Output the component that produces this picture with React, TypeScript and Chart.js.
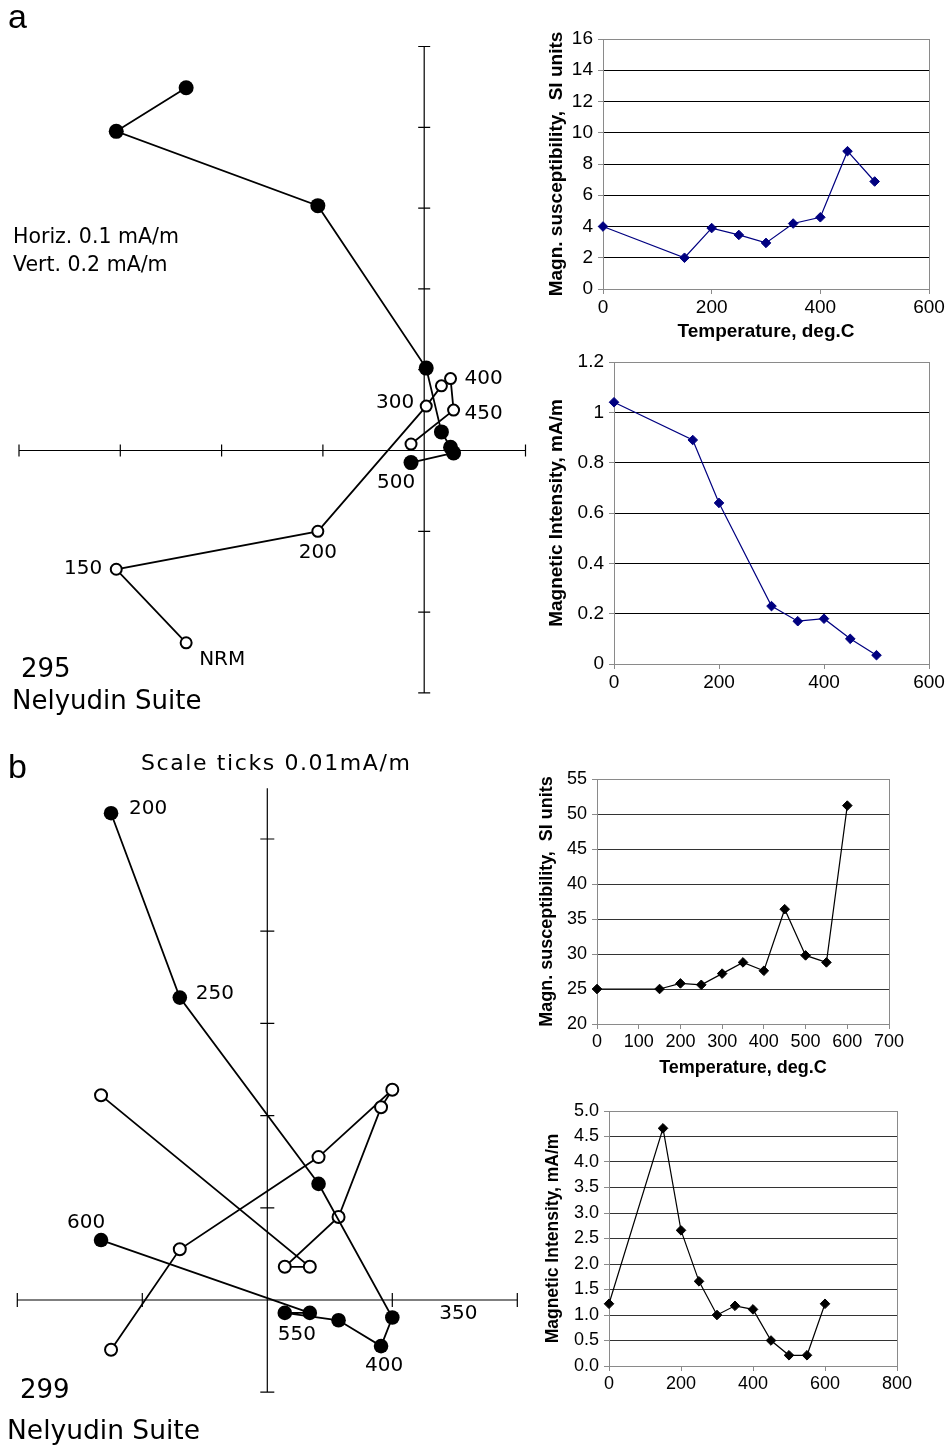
import React, { useEffect, useRef } from 'react';
import { Chart, registerables } from 'chart.js';

Chart.register(...registerables);

// ================= Panel a : sample 295 =================
// Zijderveld diagram (tick units). Same horizontal coordinate for both projections.
const aZijSteps = ['NRM', '150', '200', '300', '350', '400', '450', '500'];
const aZijX = [-2.35, -3.04, -1.05, 0.02, 0.17, 0.26, 0.29, -0.13];
const aZijFilledY = [4.49, 3.95, 3.03, 1.02, 0.23, 0.04, -0.03, -0.15];
const aZijOpenY = [-2.38, -1.47, -1.0, 0.55, 0.8, 0.89, 0.5, 0.08];
const aZijXRange = [-4, 1];
const aZijYRange = [-3, 5];

const aSuscTemps = [0, 150, 200, 250, 300, 350, 400, 450, 500];
const aSuscValues = [4.0, 2.0, 3.9, 3.46, 2.95, 4.19, 4.59, 8.82, 6.88];
const aSuscXTicks = [0, 200, 400, 600];
const aSuscYTicks = [0, 2, 4, 6, 8, 10, 12, 14, 16];

const aIntTemps = [0, 150, 200, 300, 350, 400, 450, 500];
const aIntValues = [1.04, 0.89, 0.64, 0.23, 0.17, 0.18, 0.1, 0.035];
const aIntXTicks = [0, 200, 400, 600];
const aIntYTicks = [0, 0.2, 0.4, 0.6, 0.8, 1, 1.2];

// ================= Panel b : sample 299 =================
const bZijSteps = ['200', '250', '300', '350', '400', '450', '500', '550', '600'];
const bZijX = [-1.25, -0.7, 0.41, 1.0, 0.91, 0.57, 0.14, 0.34, -1.33];
const bZijFilledY = [5.28, 3.28, 1.26, -0.19, -0.5, -0.22, -0.14, -0.14, 0.65];
const bZijOpenY = [-0.54, 0.55, 1.55, 2.28, 2.09, 0.9, 0.36, 0.36, 2.22];
const bZijXRange = [-2, 2];
const bZijYRange = [-1, 5.55];

const bSuscTemps = [0, 150, 200, 250, 300, 350, 400, 450, 500, 550, 600];
const bSuscValues = [25.0, 25.0, 25.8, 25.6, 27.2, 28.8, 27.6, 36.4, 29.8, 28.8, 51.2];
const bSuscXTicks = [0, 100, 200, 300, 400, 500, 600, 700];
const bSuscYTicks = [20, 25, 30, 35, 40, 45, 50, 55];

const bIntTemps = [0, 150, 200, 250, 300, 350, 400, 450, 500, 550, 600];
const bIntValues = [1.22, 4.66, 2.66, 1.66, 1.0, 1.18, 1.11, 0.5, 0.21, 0.21, 1.22];
const bIntXTicks = [0, 200, 400, 600, 800];
const bIntYTicks = [0, 0.5, 1, 1.5, 2, 2.5, 3, 3.5, 4, 4.5, 5];

// label placements (which point gets which step label)
const aZijLabels = [
  { ds: 1, i: 5, dx: 14, dy: 0, align: 'left' },
  { ds: 1, i: 3, dx: -12, dy: -3, align: 'right' },
  { ds: 1, i: 6, dx: 11, dy: 4, align: 'left' },
  { ds: 0, i: 7, dx: -15, dy: 20, align: 'center' },
  { ds: 1, i: 2, dx: 0, dy: 21, align: 'center' },
  { ds: 1, i: 1, dx: -14, dy: 0, align: 'right' },
  { ds: 1, i: 0, dx: 13, dy: 17, align: 'left' },
];
const bZijLabels = [
  { ds: 0, i: 0, dx: 18, dy: -4, align: 'left' },
  { ds: 0, i: 1, dx: 16, dy: -4, align: 'left' },
  { ds: 0, i: 8, dx: -15, dy: -17, align: 'center' },
  { ds: 0, i: 7, dx: -13, dy: 22, align: 'center' },
  { ds: 0, i: 4, dx: 3, dy: 20, align: 'center' },
  { ds: 0, i: 3, dx: 66, dy: -4, align: 'center' },
];

const ZFONT = "'DejaVu Sans', 'Noto Sans', sans-serif";
const AFONT = "'Liberation Sans', Arial, sans-serif";
const FRAME = '#8a8a8a';

// ---------- plugins ----------
const zijAxesPlugin = {
  id: 'zijAxes',
  beforeDatasetsDraw(chart: any, _a: any, opts: any) {
    const { ctx } = chart;
    const x = chart.scales.x;
    const y = chart.scales.y;
    const t = opts.tick || 6;
    const x0 = x.getPixelForValue(0);
    const y0 = y.getPixelForValue(0);
    ctx.save();
    ctx.strokeStyle = '#000';
    ctx.lineWidth = 1.2;
    ctx.beginPath();
    ctx.moveTo(x.getPixelForValue(x.min), y0);
    ctx.lineTo(x.getPixelForValue(x.max), y0);
    ctx.moveTo(x0, y.getPixelForValue(y.min));
    ctx.lineTo(x0, y.getPixelForValue(y.max));
    for (let v = Math.ceil(x.min); v <= x.max; v++) {
      if (v === 0) continue;
      const px = x.getPixelForValue(v);
      ctx.moveTo(px, y0 - t);
      ctx.lineTo(px, y0 + t);
    }
    for (let v = Math.ceil(y.min); v <= y.max; v++) {
      if (v === 0) continue;
      const py = y.getPixelForValue(v);
      ctx.moveTo(x0 - t, py);
      ctx.lineTo(x0 + t, py);
    }
    ctx.stroke();
    ctx.restore();
  },
};

const stepLabelPlugin = {
  id: 'stepLabels',
  afterDatasetsDraw(chart: any, _a: any, opts: any) {
    const { ctx } = chart;
    const items = opts.items || [];
    const texts = opts.texts || [];
    ctx.save();
    ctx.font = opts.font;
    ctx.fillStyle = '#000';
    ctx.textBaseline = 'middle';
    for (const l of items) {
      const el = chart.getDatasetMeta(l.ds).data[l.i];
      if (!el) continue;
      ctx.textAlign = l.align;
      ctx.fillText(texts[l.i], el.x + l.dx, el.y + l.dy);
    }
    ctx.restore();
  },
};

const framePlugin = {
  id: 'frame',
  beforeDatasetsDraw(chart: any) {
    const { ctx, chartArea: a } = chart;
    ctx.save();
    ctx.strokeStyle = FRAME;
    ctx.lineWidth = 1;
    const l = Math.round(a.left) + 0.5;
    const t = Math.round(a.top) + 0.5;
    const r = Math.round(a.right) + 0.5;
    const b = Math.round(a.bottom) + 0.5;
    ctx.strokeRect(l, t, r - l, b - t);
    ctx.restore();
  },
};

// ---------- config builders ----------
function zijConfig(p: any) {
  const filled = p.x.map((v: number, i: number) => ({ x: v, y: p.filledY[i] }));
  const open = p.x.map((v: number, i: number) => ({ x: v, y: p.openY[i] }));
  return {
    type: 'scatter',
    data: {
      datasets: [
        {
          data: filled,
          showLine: true,
          borderColor: '#000',
          borderWidth: 1.8,
          pointRadius: p.filledR,
          pointHoverRadius: p.filledR,
          pointBackgroundColor: '#000',
          pointBorderColor: '#000',
          pointBorderWidth: 0,
          clip: false,
        },
        {
          data: open,
          showLine: true,
          borderColor: '#000',
          borderWidth: 1.8,
          pointRadius: p.openR,
          pointHoverRadius: p.openR,
          pointBackgroundColor: '#fff',
          pointBorderColor: '#000',
          pointBorderWidth: 2,
          clip: false,
        },
      ],
    },
    options: {
      responsive: false,
      animation: false,
      devicePixelRatio: 1,
      events: [],
      layout: { padding: p.padding },
      plugins: {
        legend: { display: false },
        tooltip: { enabled: false },
        zijAxes: { tick: p.tick },
        stepLabels: { items: p.labels, texts: p.steps, font: `20px ${ZFONT}` },
      },
      scales: {
        x: { type: 'linear', min: p.xRange[0], max: p.xRange[1], display: false },
        y: { type: 'linear', min: p.yRange[0], max: p.yRange[1], display: false },
      },
    },
    plugins: [zijAxesPlugin, stepLabelPlugin],
  };
}

function seriesConfig(p: any) {
  const data = p.xs.map((x: number, i: number) => ({ x, y: p.ys[i] }));
  const tickFont = { family: AFONT, size: p.tickSize };
  const titleFont = (size: number) => ({ family: AFONT, size, weight: 'bold' });
  return {
    type: 'scatter',
    data: {
      datasets: [
        {
          data,
          showLine: true,
          borderColor: p.color,
          borderWidth: p.lineWidth,
          backgroundColor: p.color,
          pointStyle: 'rectRot',
          pointRadius: 4.8,
          pointHoverRadius: 4.8,
          pointBackgroundColor: p.color,
          pointBorderColor: p.color,
          pointBorderWidth: 1,
          clip: false,
        },
      ],
    },
    options: {
      responsive: false,
      animation: false,
      devicePixelRatio: 1,
      events: [],
      layout: { padding: p.padding },
      plugins: { legend: { display: false }, tooltip: { enabled: false } },
      scales: {
        x: {
          type: 'linear',
          min: p.xTicks[0],
          max: p.xTicks[p.xTicks.length - 1],
          afterBuildTicks: (s: any) => {
            s.ticks = p.xTicks.map((v: number) => ({ value: v }));
          },
          ticks: { font: tickFont, color: '#000', padding: 2, maxRotation: 0, autoSkip: false },
          grid: { drawOnChartArea: false, drawTicks: true, tickLength: 5, tickColor: FRAME },
          border: { color: FRAME, width: 1 },
          title: p.xTitle
            ? {
                display: true,
                text: p.xTitle,
                color: '#000',
                font: titleFont(p.xTitleSize),
                padding: { top: 0, bottom: p.xTitlePad },
              }
            : { display: false },
          afterFit: (s: any) => {
            s.height = p.xAxisH;
          },
        },
        y: {
          type: 'linear',
          min: p.yTicks[0],
          max: p.yTicks[p.yTicks.length - 1],
          afterBuildTicks: (s: any) => {
            s.ticks = p.yTicks.map((v: number) => ({ value: v }));
          },
          ticks: { font: tickFont, color: '#000', padding: 5, callback: p.yFmt },
          grid: {
            color: (c: any) => (c.index === 0 ? FRAME : p.gridColor),
            lineWidth: 1,
            drawTicks: true,
            tickLength: 5,
            tickColor: FRAME,
          },
          border: { color: FRAME, width: 1 },
          title: {
            display: true,
            text: p.yTitle,
            color: '#000',
            font: titleFont(p.yTitleSize),
            padding: { top: p.yTitlePad, bottom: 0 },
          },
          afterFit: (s: any) => {
            s.width = p.yAxisW;
          },
        },
      },
    },
    plugins: [framePlugin],
  };
}

// ---------- components ----------
function ChartBox({ left, top, width, height, make }: any) {
  const ref = useRef<HTMLCanvasElement | null>(null);
  useEffect(() => {
    const chart = new Chart(ref.current as any, make() as any);
    return () => chart.destroy();
  }, []);
  return (
    <canvas
      ref={ref}
      width={width}
      height={height}
      style={{ position: 'absolute', left, top, width, height }}
    />
  );
}

function Txt({ x, baseline, size, family = ZFONT, spacing = 0, children }: any) {
  return (
    <div
      style={{
        position: 'absolute',
        left: x,
        top: baseline - 0.846 * size,
        fontFamily: family,
        fontSize: size,
        lineHeight: `${size}px`,
        letterSpacing: spacing,
        whiteSpace: 'pre',
        color: '#000',
        zIndex: 2,
      }}
    >
      {children}
    </div>
  );
}

const fmtPlain = (v: number) => String(+Number(v).toFixed(2));
const fmtOne = (v: number) => Number(v).toFixed(1);

export default function App() {
  return (
    <div
      style={{
        position: 'absolute',
        left: 0,
        top: 0,
        width: 949,
        height: 1445,
        background: '#fff',
        overflow: 'hidden',
      }}
    >
      {/* ---------------- panel a ---------------- */}
      <ChartBox
        left={0}
        top={0}
        width={540}
        height={720}
        make={() =>
          zijConfig({
            x: aZijX,
            filledY: aZijFilledY,
            openY: aZijOpenY,
            steps: aZijSteps,
            labels: aZijLabels,
            xRange: aZijXRange,
            yRange: aZijYRange,
            padding: { left: 19, right: 14.5, top: 46.5, bottom: 27.1 },
            filledR: 7.5,
            openR: 5.5,
            tick: 6,
          })
        }
      />
      <ChartBox
        left={540}
        top={20}
        width={409}
        height={330}
        make={() =>
          seriesConfig({
            xs: aSuscTemps,
            ys: aSuscValues,
            xTicks: aSuscXTicks,
            yTicks: aSuscYTicks,
            color: '#000080',
            lineWidth: 1.2,
            gridColor: '#000',
            tickSize: 19,
            yTitle: 'Magn. susceptibility,  SI units',
            yTitleSize: 19,
            yTitlePad: 5.3,
            xTitle: 'Temperature, deg.C',
            xTitleSize: 19,
            xTitlePad: 6.6,
            yAxisW: 63,
            xAxisH: 61,
            padding: { left: 0, top: 19, right: 20, bottom: 0 },
            yFmt: fmtPlain,
          })
        }
      />
      <ChartBox
        left={540}
        top={345}
        width={409}
        height={355}
        make={() =>
          seriesConfig({
            xs: aIntTemps,
            ys: aIntValues,
            xTicks: aIntXTicks,
            yTicks: aIntYTicks,
            color: '#000080',
            lineWidth: 1.2,
            gridColor: '#000',
            tickSize: 19,
            yTitle: 'Magnetic Intensity, mA/m',
            yTitleSize: 19,
            yTitlePad: 5.3,
            xTitle: null,
            yAxisW: 74,
            xAxisH: 36,
            padding: { left: 0, top: 17, right: 20, bottom: 0 },
            yFmt: fmtPlain,
          })
        }
      />
      <Txt x={8} baseline={28} size={34} family={AFONT}>a</Txt>
      <Txt x={13} baseline={243} size={20.5}>Horiz. 0.1 mA/m</Txt>
      <Txt x={13} baseline={271} size={20.5}>Vert. 0.2 mA/m</Txt>
      <Txt x={21} baseline={677} size={26}>295</Txt>
      <Txt x={12} baseline={709} size={26}>Nelyudin Suite</Txt>

      {/* ---------------- panel b ---------------- */}
      <ChartBox
        left={0}
        top={740}
        width={530}
        height={705}
        make={() =>
          zijConfig({
            x: bZijX,
            filledY: bZijFilledY,
            openY: bZijOpenY,
            steps: bZijSteps,
            labels: bZijLabels,
            xRange: bZijXRange,
            yRange: bZijYRange,
            padding: { left: 17.3, right: 12.7, top: 48.3, bottom: 52.8 },
            filledR: 7.3,
            openR: 6,
            tick: 7,
          })
        }
      />
      <ChartBox
        left={530}
        top={760}
        width={419}
        height={330}
        make={() =>
          seriesConfig({
            xs: bSuscTemps,
            ys: bSuscValues,
            xTicks: bSuscXTicks,
            yTicks: bSuscYTicks,
            color: '#000',
            lineWidth: 1.2,
            gridColor: '#333',
            tickSize: 18,
            yTitle: 'Magn. susceptibility,  SI units',
            yTitleSize: 18,
            yTitlePad: 5.8,
            xTitle: 'Temperature, deg.C',
            xTitleSize: 18,
            xTitlePad: 11.2,
            yAxisW: 67,
            xAxisH: 66,
            padding: { left: 0, top: 19, right: 60, bottom: 0 },
            yFmt: fmtPlain,
          })
        }
      />
      <ChartBox
        left={530}
        top={1090}
        width={419}
        height={320}
        make={() =>
          seriesConfig({
            xs: bIntTemps,
            ys: bIntValues,
            xTicks: bIntXTicks,
            yTicks: bIntYTicks,
            color: '#000',
            lineWidth: 1.2,
            gridColor: '#333',
            tickSize: 18,
            yTitle: 'Magnetic Intensity, mA/m',
            yTitleSize: 17.5,
            yTitlePad: 12.5,
            xTitle: null,
            yAxisW: 79,
            xAxisH: 44,
            padding: { left: 0, top: 21, right: 52, bottom: 0 },
            yFmt: fmtOne,
          })
        }
      />
      <Txt x={8} baseline={778} size={34} family={AFONT}>b</Txt>
      <Txt x={141} baseline={771} size={22} spacing={1.6}>Scale ticks 0.01mA/m</Txt>
      <Txt x={20} baseline={1398} size={26}>299</Txt>
      <Txt x={7} baseline={1439} size={26.5}>Nelyudin Suite</Txt>
    </div>
  );
}
